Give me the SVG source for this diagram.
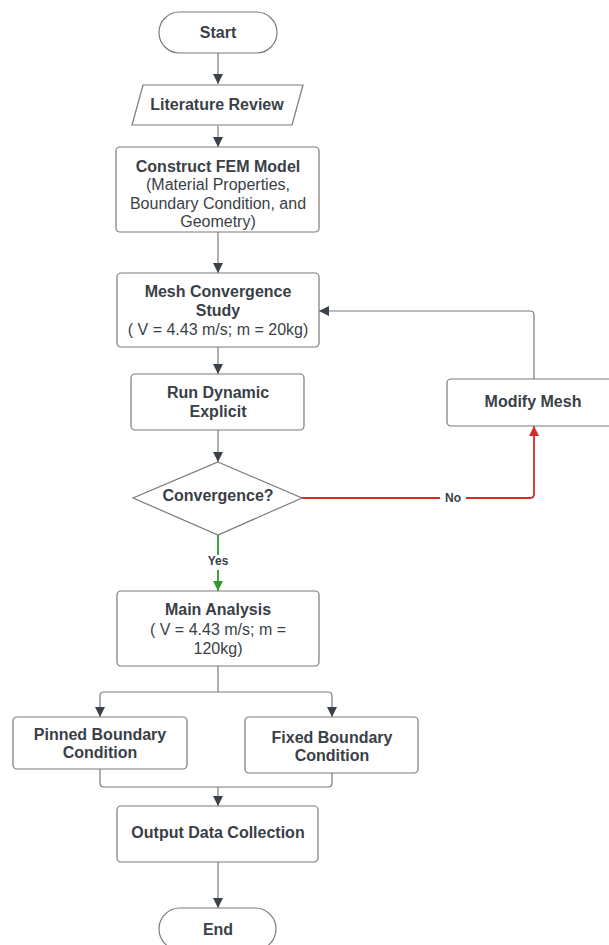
<svg xmlns="http://www.w3.org/2000/svg" width="609" height="945" viewBox="0 0 609 945">
<style>
.box{fill:#ffffff;stroke:#7a7a7a;stroke-width:1.2}
.t{font-family:"Liberation Sans",Arial,sans-serif;font-size:16px;fill:#3a3f47;text-anchor:middle}
.b{font-weight:bold}
.lbl{font-family:"Liberation Sans",Arial,sans-serif;font-size:12px;font-weight:bold;fill:#3a3f47;text-anchor:middle}
.c{fill:none;stroke:#7a7a7a;stroke-width:1.2}
.red{fill:none;stroke:#d42a2a;stroke-width:1.8}
.green{fill:none;stroke:#2f9a2f;stroke-width:1.8}
</style>
<defs>
<marker id="ah" viewBox="0 0 10 10" refX="10" refY="5" markerWidth="10" markerHeight="10" markerUnits="userSpaceOnUse" orient="auto">
<path d="M0,0 L10,5 L0,10 z" fill="#3a414a"/>
</marker>
<marker id="ahr" viewBox="0 0 10 10" refX="10" refY="5" markerWidth="10" markerHeight="10" markerUnits="userSpaceOnUse" orient="auto">
<path d="M0,0 L10,5 L0,10 z" fill="#d42a2a"/>
</marker>
<marker id="ahg" viewBox="0 0 10 10" refX="10" refY="5" markerWidth="10" markerHeight="10" markerUnits="userSpaceOnUse" orient="auto">
<path d="M0,0 L10,5 L0,10 z" fill="#2f9a2f"/>
</marker>
</defs>
<rect width="609" height="945" fill="#ffffff"/>
<g id="connectors">
<path class="c" d="M218,53 V84" marker-end="url(#ah)"/>
<path class="c" d="M218,126 V147" marker-end="url(#ah)"/>
<path class="c" d="M218,232 V273" marker-end="url(#ah)"/>
<path class="c" d="M218,347 V374" marker-end="url(#ah)"/>
<path class="c" d="M218,430 V462" marker-end="url(#ah)"/>
<path class="green" d="M218,535 V555"/>
<path class="green" d="M218,570 V591" marker-end="url(#ahg)"/>
<path class="red" d="M302,498 H440 M466,498 H530 Q534,498 534,494 V426" marker-end="url(#ahr)"/>
<path class="c" d="M534,379 V315 Q534,311 530,311 H319" marker-end="url(#ah)"/>
<path class="c" d="M218,666 V692"/>
<path class="c" d="M218,692 H104 Q100,692 100,696 V717" marker-end="url(#ah)"/>
<path class="c" d="M218,692 H328 Q332,692 332,696 V717" marker-end="url(#ah)"/>
<path class="c" d="M100,769 V783 Q100,787 104,787 H328 Q332,787 332,783 V773"/>
<path class="c" d="M218,787 V806" marker-end="url(#ah)"/>
<path class="c" d="M218,862 V908" marker-end="url(#ah)"/>
<text class="lbl" x="218" y="565">Yes</text>
<text class="lbl" x="453" y="502">No</text>
</g>
<g id="start">
<rect class="box" x="159" y="12" width="118" height="41" rx="20.5"/>
<text class="t b" x="218" y="38">Start</text>
</g>
<g id="literature">
<polygon class="box" points="143,85 303,85 292,125 132,125"/>
<text class="t b" x="217" y="110">Literature Review</text>
</g>
<g id="fem">
<rect class="box" x="116" y="147" width="203" height="85" rx="4"/>
<text class="t b" x="218" y="172">Construct FEM Model</text>
<text class="t" x="218" y="190">(Material Properties,</text>
<text class="t" x="218" y="209">Boundary Condition, and</text>
<text class="t" x="218" y="227">Geometry)</text>
</g>
<g id="mesh">
<rect class="box" x="117" y="273" width="202" height="74" rx="4"/>
<text class="t b" x="218" y="297">Mesh Convergence</text>
<text class="t b" x="218" y="316">Study</text>
<text class="t" x="218" y="335">( V = 4.43 m/s; m = 20kg)</text>
</g>
<g id="run">
<rect class="box" x="131" y="374" width="173" height="56" rx="4"/>
<text class="t b" x="218" y="398">Run Dynamic</text>
<text class="t b" x="218" y="417">Explicit</text>
</g>
<g id="convergence">
<polygon class="box" points="218,462 302,498 218,535 133,498"/>
<text class="t b" x="218" y="501">Convergence?</text>
</g>
<g id="modify">
<rect class="box" x="447" y="379" width="166" height="47" rx="4"/>
<text class="t b" x="533" y="407">Modify Mesh</text>
</g>
<g id="main">
<rect class="box" x="117" y="591" width="202" height="75" rx="4"/>
<text class="t b" x="218" y="615">Main Analysis</text>
<text class="t" x="218" y="635">( V = 4.43 m/s; m =</text>
<text class="t" x="218" y="654">120kg)</text>
</g>
<g id="pinned">
<rect class="box" x="13" y="717" width="174" height="52" rx="4"/>
<text class="t b" x="100" y="740">Pinned Boundary</text>
<text class="t b" x="100" y="758">Condition</text>
</g>
<g id="fixed">
<rect class="box" x="245" y="717" width="173" height="56" rx="4"/>
<text class="t b" x="332" y="743">Fixed Boundary</text>
<text class="t b" x="332" y="761">Condition</text>
</g>
<g id="output">
<rect class="box" x="117" y="806" width="201" height="56" rx="4"/>
<text class="t b" x="218" y="838">Output Data Collection</text>
</g>
<g id="end">
<rect class="box" x="159" y="908" width="117" height="42" rx="21"/>
<text class="t b" x="218" y="935">End</text>
</g>
</svg>
